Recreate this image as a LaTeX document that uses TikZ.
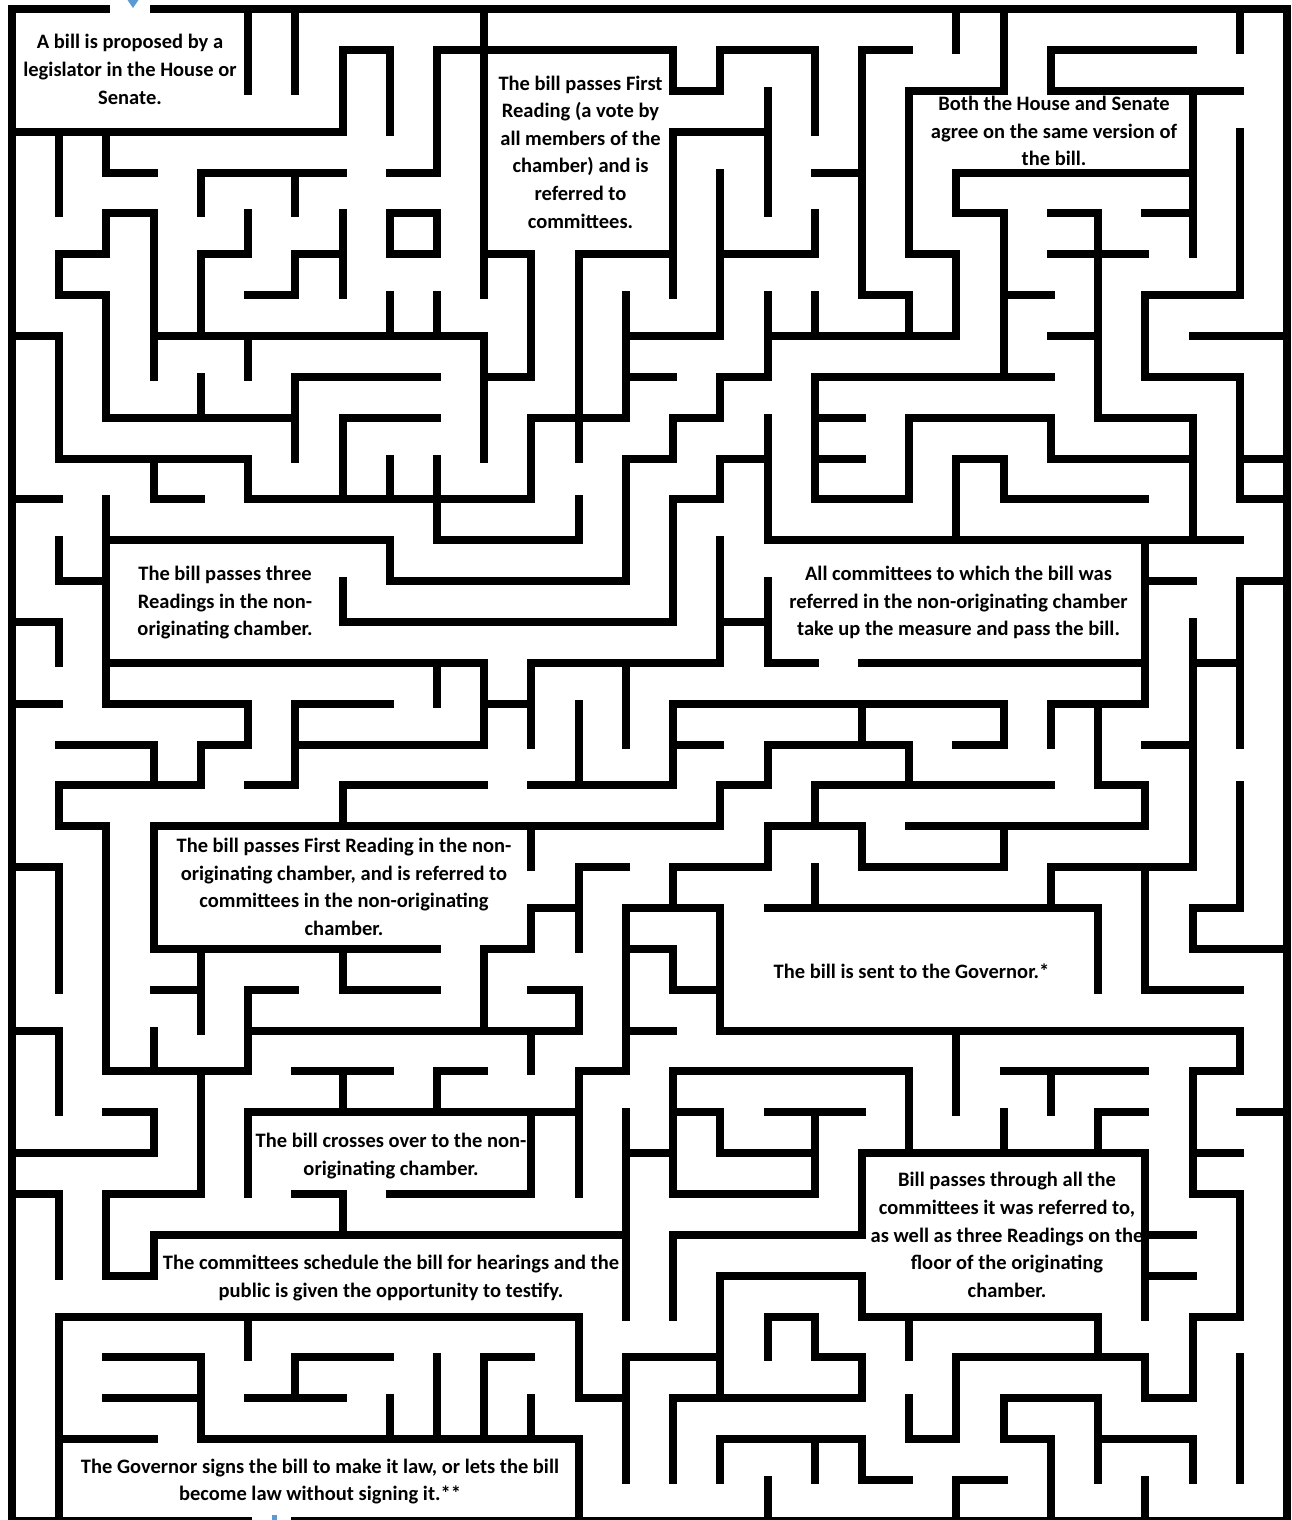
\documentclass[tikz,border=0pt]{standalone}
\usepackage{fontspec}
\setmainfont{Carlito}
\definecolor{arrowblue}{RGB}{91,155,213}
\tikzset{
  wall/.style={line width=8pt, line cap=rect, draw=black},
  boxtext/.style={font=\fontsize{20.5pt}{27.6pt}\selectfont\bfseries, align=center, inner sep=0pt, text=black,
    execute at begin node=\strut, execute at end node=\strut}
}
\begin{document}
\begin{tikzpicture}[x=1pt,y=-1pt]
\useasboundingbox (0,0) rectangle (1291,1520);
\fill[white] (0,0) rectangle (1291,1520);
\begin{scope}[shift={(12,9.1)},x=47.222pt,y=-40.86pt]
% horizontal walls: row / from column / to column
\foreach \j/\a/\b in {
0/0/2, 0/3/27,
1/7/8, 1/9/14, 1/15/17, 1/18/19, 1/22/25,
2/14/15, 2/19/21, 2/22/26,
3/0/7, 3/14/16,
4/2/3, 4/4/7, 4/8/9, 4/17/18, 4/20/25,
5/2/3, 5/8/9, 5/20/21, 5/22/23, 5/24/25,
6/1/2, 6/4/5, 6/6/7, 6/8/9, 6/10/11, 6/12/14, 6/15/17, 6/19/20, 6/22/24,
7/1/2, 7/5/6, 7/18/19, 7/21/22, 7/24/26,
8/0/1, 8/3/10, 8/13/15, 8/16/20, 8/22/23, 8/25/27,
9/6/9, 9/10/11, 9/13/14, 9/15/16, 9/17/22, 9/24/26,
10/2/6, 10/7/9, 10/11/13, 10/14/15, 10/17/18, 10/19/22, 10/23/25,
11/1/5, 11/13/14, 11/15/16, 11/17/18, 11/20/21, 11/22/25, 11/26/27,
12/0/1, 12/3/4, 12/5/11, 12/14/15, 12/17/19, 12/21/24, 12/26/27,
13/2/8, 13/9/12, 13/16/26,
14/1/2, 14/8/13, 14/24/25, 14/26/27,
15/0/1, 15/7/14, 15/15/16,
16/2/10, 16/11/15, 16/16/17, 16/18/24, 16/25/26,
17/0/1, 17/2/5, 17/6/8, 17/10/11, 17/14/21, 17/22/24,
18/1/3, 18/4/5, 18/6/10, 18/14/15, 18/16/19, 18/20/21, 18/24/25,
19/1/4, 19/5/6, 19/7/10, 19/11/14, 19/15/16, 19/17/22, 19/23/24,
20/1/2, 20/3/15, 20/16/18, 20/19/24,
21/0/1, 21/12/13, 21/14/16, 21/18/21, 21/22/25,
22/11/12, 22/13/15, 22/16/23, 22/25/26,
23/3/9, 23/10/11, 23/13/14, 23/25/27,
24/3/4, 24/5/6, 24/7/9, 24/11/12, 24/14/15, 24/24/26,
25/0/1, 25/5/12, 25/13/14, 25/15/26,
26/2/5, 26/6/8, 26/9/10, 26/12/13, 26/14/19, 26/21/24, 26/25/26,
27/2/3, 27/5/12, 27/14/15, 27/16/18, 27/23/24, 27/26/27,
28/0/3, 28/13/14, 28/15/17, 28/18/24, 28/25/26,
29/0/1, 29/2/4, 29/6/7, 29/8/11, 29/14/17, 29/25/26,
30/3/13, 30/14/18, 30/24/25,
31/2/3, 31/15/18, 31/24/25,
32/1/12, 32/16/17, 32/18/23, 32/25/26,
33/2/4, 33/6/8, 33/10/11, 33/13/15, 33/17/18, 33/20/24,
34/2/4, 34/5/7, 34/12/13, 34/14/18, 34/21/23, 34/24/25,
35/1/3, 35/4/12, 35/15/18, 35/19/20, 35/21/22, 35/23/25,
36/18/19, 36/20/21,
37/0/5, 37/6/27}
  \draw[wall] (\a,\j) -- (\b,\j);
% vertical walls: column / from row / to row
\foreach \i/\a/\b in {
0/0/37,
1/3/5, 1/6/7, 1/8/11, 1/13/14, 1/15/16, 1/19/20, 1/21/24, 1/25/27, 1/29/31, 1/32/37,
2/3/4, 2/5/6, 2/7/10, 2/12/17, 2/20/26, 2/29/31,
3/5/9, 3/11/12, 3/18/19, 3/20/23, 3/25/26, 3/27/28, 3/30/31,
4/4/5, 4/6/8, 4/9/10, 4/18/19, 4/23/25, 4/26/29, 4/33/35,
5/0/2, 5/5/6, 5/8/9, 5/11/12, 5/17/18, 5/24/26, 5/27/29, 5/32/33,
6/0/2, 6/4/5, 6/6/7, 6/9/11, 6/17/19, 6/33/34,
7/1/3, 7/5/7, 7/10/12, 7/14/15, 7/19/20, 7/23/24, 7/26/27, 7/29/30,
8/1/3, 8/5/6, 8/7/8, 8/11/12, 8/13/14, 8/34/35,
9/1/4, 9/5/6, 9/7/8, 9/11/13, 9/16/17, 9/26/27, 9/33/35,
10/0/7, 10/8/11, 10/16/18, 10/23/25, 10/33/35,
11/6/9, 11/10/12, 11/16/18, 11/20/21, 11/22/23, 11/25/26, 11/27/29, 11/34/35,
12/6/11, 12/12/13, 12/17/19, 12/21/23, 12/24/25, 12/26/29, 12/32/34, 12/35/37,
13/7/10, 13/11/14, 13/16/18, 13/22/26, 13/27/32, 13/33/36,
14/1/2, 14/3/7, 14/10/11, 14/12/15, 14/17/19, 14/21/22, 14/23/24, 14/26/29, 14/30/32, 14/34/36,
15/1/2, 15/4/8, 15/9/10, 15/11/12, 15/13/16, 15/19/20, 15/22/25, 15/27/28, 15/31/34, 15/35/36,
16/2/5, 16/7/9, 16/10/13, 16/14/16, 16/18/19, 16/20/21, 16/32/33, 16/36/37,
17/1/3, 17/5/6, 17/7/8, 17/9/12, 17/19/20, 17/21/22, 17/27/29, 17/32/33, 17/35/36,
18/1/7, 18/17/18, 18/20/21, 18/28/30, 18/31/32, 18/33/34, 18/35/36,
19/2/6, 19/7/8, 19/10/12, 19/18/19, 19/26/28, 19/32/33, 19/34/35,
20/0/1, 20/4/5, 20/6/8, 20/11/13, 20/25/27, 20/33/35, 20/36/37,
21/0/2, 21/5/9, 21/11/12, 21/17/18, 21/20/21, 21/27/28, 21/34/35,
22/1/2, 22/10/11, 22/17/18, 22/21/22, 22/26/27, 22/35/37,
23/5/10, 23/17/19, 23/22/24, 23/27/28, 23/32/33, 23/34/36,
24/7/9, 24/13/17, 24/19/20, 24/21/24, 24/28/32, 24/33/34, 24/36/37,
25/2/6, 25/10/13, 25/15/21, 25/22/23, 25/26/29, 25/32/34, 25/35/36,
26/0/1, 26/3/7, 26/9/12, 26/14/18, 26/19/22, 26/25/26, 26/29/32, 26/33/36,
27/0/37}
  \draw[wall] (\i,\a) -- (\i,\b);
\end{scope}
% entrance and exit marks
\fill[arrowblue] (127.5,0) -- (138.5,0) -- (133,8) -- cycle;
\fill[arrowblue] (272,1515) rectangle (277,1520);
% texts
\node[boxtext] (t1) at (130,73.5) {A bill is proposed by a\\legislator in the House or\\Senate.};
\node[boxtext] (t2) at (580.5,156) {The bill passes First\\Reading (a vote by\\all members of the\\chamber) and is\\referred to\\committees.};
\node[boxtext] (t3) at (1054,135) {Both the House and Senate\\agree on the same version of\\the bill.};
\node[boxtext] (t4) at (225,605) {The bill passes three\\Readings in the non-\\originating chamber.};
\node[boxtext] (t5) at (958.5,605) {All committees to which the bill was\\referred in the non-originating chamber\\take up the measure and pass the bill.};
\node[boxtext] (t6) at (344,891) {The bill passes First Reading in the non-\\originating chamber, and is referred to\\committees in the non-originating\\chamber.};
\node[boxtext] (t7) at (911.5,973) {The bill is sent to the Governor.*};
\node[boxtext] (t8) at (391,1158.5) {The bill crosses over to the non-\\originating chamber.};
\node[boxtext] (t9) at (1007,1239) {Bill passes through all the\\committees it was referred to,\\as well as three Readings on the\\floor of the originating\\chamber.};
\node[boxtext] (t10) at (391,1280.5) {The committees schedule the bill for hearings and the\\public is given the opportunity to testify.};
\node[boxtext] (t11) at (320,1484) {The Governor signs the bill to make it law, or lets the bill\\become law without signing it.**};
\end{tikzpicture}
\end{document}
